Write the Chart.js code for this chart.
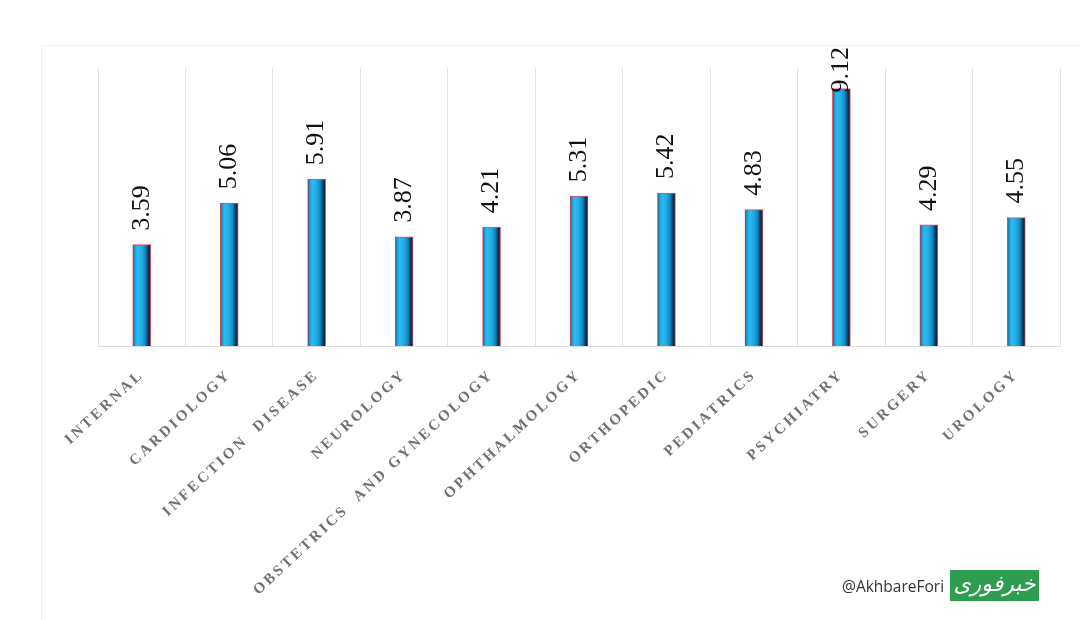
<!DOCTYPE html>
<html>
<head>
<meta charset="utf-8">
<script src="https://cdn.jsdelivr.net/npm/chart.js@4.4.1/dist/chart.umd.min.js"></script>
<style>
  html, body { margin: 0; padding: 0; background: #fff; }
  #wrap { position: relative; width: 1080px; height: 620px; overflow: hidden; }
  #frame { position: absolute; left: 41px; top: 45px; width: 1060px; height: 600px; border: 1px solid #f0f0f0; box-sizing: border-box; }
  #myChart { position: absolute; left: 0; top: 0; }
  #mark { position: absolute; left: 842px; top: 569px; height: 33px; display: flex; align-items: center; }
  #mark span { font-family: "Open Sans", sans-serif; font-size: 15.5px; color: #333; margin-right: 6px; }
  #mark div { width: 89px; height: 31px; background: #2f9d4f; color: #fff; font-family: "DejaVu Sans", sans-serif; font-size: 22px; font-style: italic; text-align: center; line-height: 28px; }
</style>
</head>
<body>
<div id="wrap">
  <div id="frame"></div>
  <canvas id="myChart" width="1080" height="620"></canvas>
  <div id="mark"><span>@AkhbareFori</span><div>خبرفوری</div></div>
</div>
<script>
const categories = ['INTERNAL', 'CARDIOLOGY', 'INFECTION  DISEASE', 'NEUROLOGY', 'OBSTETRICS  AND GYNECOLOGY',
    'OPHTHALMOLOGY', 'ORTHOPEDIC', 'PEDIATRICS', 'PSYCHIATRY', 'SURGERY', 'UROLOGY'];
const values = [3.59, 5.06, 5.91, 3.87, 4.21, 5.31, 5.42, 4.83, 9.12, 4.29, 4.55];

const ctx = document.getElementById('myChart').getContext('2d');

// cylinder-like fill for each bar
function barFill(c) {
    const chart = c.chart;
    if (!chart.chartArea || c.dataIndex === undefined || !chart.scales.x) return '#1aa6e0';
    const x = chart.scales.x.getPixelForValue(c.dataIndex);
    const g = chart.ctx.createLinearGradient(x - 9, 0, x + 9, 0);
    g.addColorStop(0, '#1b2838');
    g.addColorStop(0.08, '#1690c8');
    g.addColorStop(0.25, '#2cbcf2');
    g.addColorStop(0.5, '#20aae4');
    g.addColorStop(0.7, '#1386c0');
    g.addColorStop(0.86, '#0b3c5c');
    g.addColorStop(1, '#10141c');
    return g;
}

// letter spacing for the axis labels
const spacing = {
    id: 'spacing',
    beforeLayout: (chart) => { chart.ctx.letterSpacing = '2.8px'; },
    beforeDraw: (chart) => { chart.ctx.letterSpacing = '2.8px'; }
};

// rotated value labels above the bars
const valueLabels = {
    id: 'valueLabels',
    afterDatasetsDraw: (chart) => {
        const c = chart.ctx;
        const meta = chart.getDatasetMeta(0);
        c.save();
        c.letterSpacing = '0px';
        c.font = '26px "Liberation Serif", serif';
        c.fillStyle = '#111';
        c.textAlign = 'left';
        c.textBaseline = 'middle';
        meta.data.forEach((bar, i) => {
            const txt = values[i].toFixed(2);
            const w = c.measureText(txt).width;
            const y = Math.max(bar.y - 14, 47 + w);
            c.save();
            c.translate(bar.x, y);
            c.rotate(-Math.PI / 2);
            c.fillText(txt, 0, 0);
            c.restore();
        });
        c.restore();
    }
};

const myChart = new Chart(ctx, {
    type: 'bar',
    data: {
        labels: categories,
        datasets: [{
            data: values,
            backgroundColor: barFill,
            borderColor: '#e0505e',
            borderWidth: 1,
            barThickness: 18
        }]
    },
    options: {
        responsive: false,
        animation: false,
        layout: { padding: { left: 98, right: 20, top: 68, bottom: 0 } },
        plugins: {
            legend: { display: false },
            tooltip: { enabled: false }
        },
        scales: {
            x: {
                grid: { color: '#e8e0e3', drawTicks: false, offset: true },
                border: { display: true, color: '#dcdcdc' },
                ticks: {
                    minRotation: 43,
                    maxRotation: 43,
                    autoSkip: false,
                    padding: 20,
                    color: '#707070',
                    font: { family: '"Liberation Serif", serif', size: 15, weight: 'bold' }
                },
                afterFit: (scale) => { scale.height = 274; }
            },
            y: {
                display: false,
                min: 0,
                max: 9.85
            }
        }
    },
    plugins: [spacing, valueLabels]
});
</script>
</body>
</html>
